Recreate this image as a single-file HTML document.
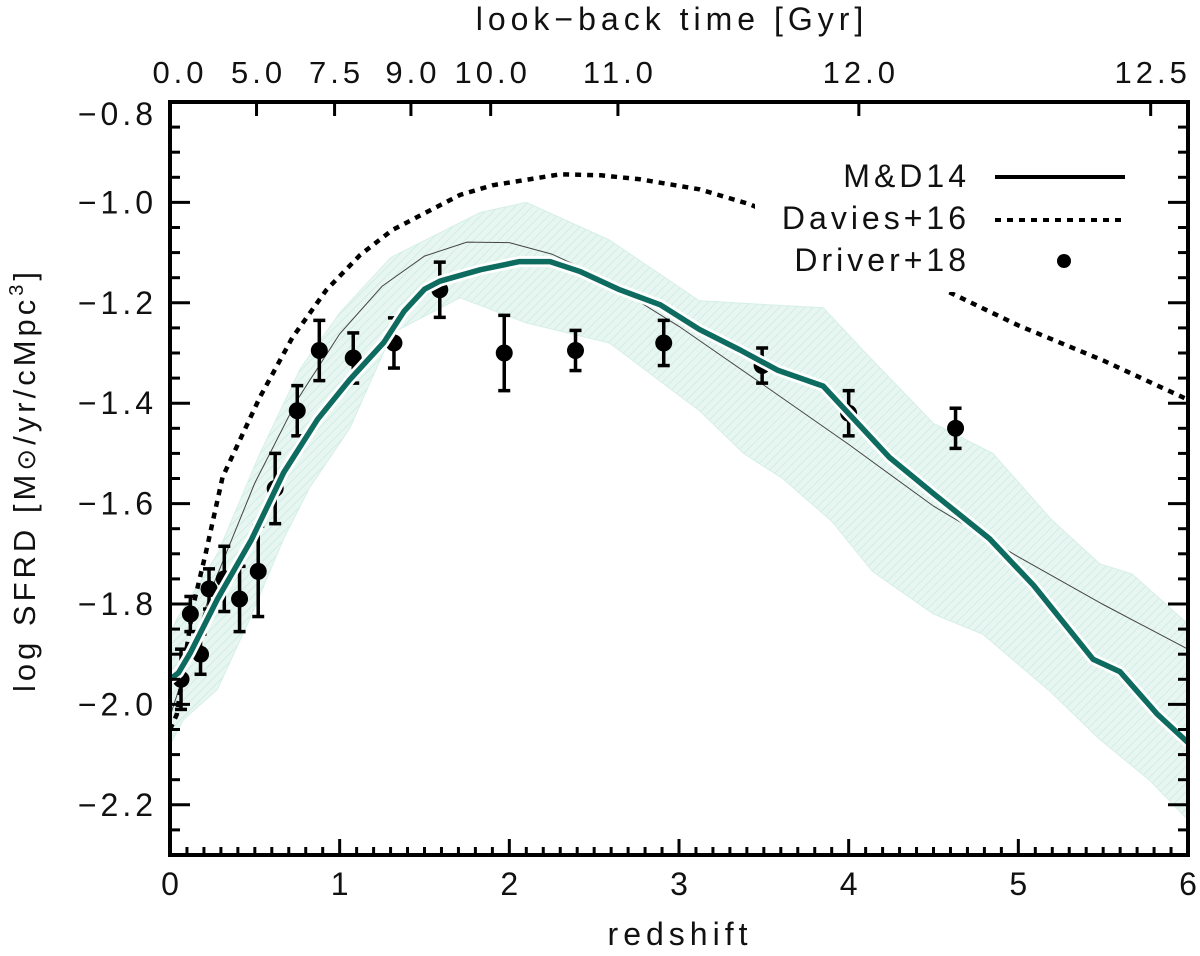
<!DOCTYPE html>
<html><head><meta charset="utf-8"><style>
html,body{margin:0;padding:0;background:#fff;}
svg{display:block;font-family:"Liberation Sans",sans-serif;}
text{fill:#111;letter-spacing:4px;}
</style></head><body>
<svg id="chart" width="1200" height="956" viewBox="0 0 1200 956">
<defs>
<pattern id="hatch" width="6" height="6" patternUnits="userSpaceOnUse" patternTransform="rotate(45)">
<rect width="6" height="6" fill="#e8f6f2"/><line x1="0" y1="0" x2="0" y2="6" stroke="#d2ede6" stroke-width="2"/>
</pattern>
<clipPath id="plotclip"><rect x="170" y="102" width="1018" height="753"/></clipPath>
</defs>
<g id="plot" clip-path="url(#plotclip)"></g>
<g id="axes"></g>
<text x="672" y="30" text-anchor="middle" font-size="32" style="letter-spacing:5px">look−back time [Gyr]</text>
<text x="680" y="945" text-anchor="middle" font-size="32" style="letter-spacing:5px">redshift</text>
<text transform="translate(35,480) rotate(-90)" text-anchor="middle" font-size="31">log SFRD [M<tspan font-family="DejaVu Sans" font-size="26">⊙</tspan>/yr/cMpc<tspan dy="-12" font-size="20">3</tspan><tspan dy="12">]</tspan></text>
</svg>
<script>
// ---- data ----
const upperZ = [0,0.04,0.28,0.53,0.77,1.0,1.3,1.83,2.1,2.59,3.12,3.85,4.1,4.5,4.85,5.19,5.48,5.67,6.0];
const bandUpper = [-1.86,-1.83,-1.70,-1.50,-1.33,-1.22,-1.11,-1.02,-1.0,-1.075,-1.196,-1.21,-1.30,-1.44,-1.50,-1.63,-1.72,-1.74,-1.84];
const lowerZ = [0,0.08,0.28,0.47,0.67,0.82,1.06,1.31,1.71,2.1,2.59,3.12,3.38,3.61,3.9,4.14,4.5,4.79,5.19,5.48,5.77,6.0];
const bandLower = [-2.08,-2.03,-1.97,-1.83,-1.67,-1.57,-1.45,-1.26,-1.19,-1.24,-1.28,-1.415,-1.50,-1.55,-1.635,-1.735,-1.82,-1.86,-1.975,-2.07,-2.15,-2.23];
const mdZ = [0,0.05,0.12,0.28,0.48,0.67,0.87,1.06,1.26,1.38,1.5,1.59,1.83,2.06,2.24,2.42,2.65,2.89,3.12,3.36,3.58,3.85,4.24,4.5,4.83,5.09,5.44,5.6,5.82,6.0];
const mdY = [-1.95,-1.937,-1.897,-1.79,-1.672,-1.538,-1.432,-1.353,-1.279,-1.217,-1.173,-1.157,-1.134,-1.118,-1.118,-1.138,-1.174,-1.204,-1.253,-1.294,-1.334,-1.366,-1.508,-1.58,-1.67,-1.763,-1.91,-1.935,-2.02,-2.076];
const fitZ = [0,0.25,0.5,0.75,1.0,1.25,1.5,1.75,2.0,2.25,2.5,3.0,3.5,4.0,4.5,5.0,5.5,6.0];
const fitY = [-2.024,-1.766,-1.559,-1.393,-1.262,-1.167,-1.107,-1.079,-1.08,-1.103,-1.142,-1.247,-1.364,-1.482,-1.605,-1.706,-1.801,-1.89];
const davZ = [0,0.04,0.135,0.21,0.31,0.53,0.72,0.92,1.12,1.31,1.51,1.71,1.9,2.3,2.54,2.77,3.12,3.42,4.0,4.6,5.0,5.5,6.0];
const davY = [-2.05,-2.02,-1.806,-1.70,-1.547,-1.388,-1.27,-1.175,-1.105,-1.055,-1.02,-0.985,-0.966,-0.944,-0.946,-0.954,-0.974,-1.004,-1.09,-1.18,-1.245,-1.315,-1.393];
const drvZ = [0.065,0.12,0.18,0.23,0.32,0.41,0.52,0.62,0.75,0.88,1.08,1.32,1.59,1.97,2.39,2.91,3.49,4.0,4.63];
const drvY = [-1.95,-1.82,-1.9,-1.77,-1.75,-1.79,-1.735,-1.57,-1.415,-1.295,-1.31,-1.28,-1.174,-1.3,-1.295,-1.28,-1.325,-1.42,-1.45];
const drvErr = [0.06,0.035,0.04,0.04,0.065,0.065,0.09,0.07,0.05,0.06,0.05,0.05,0.055,0.075,0.04,0.045,0.035,0.045,0.04];
const yTicks = [-0.8,-1.0,-1.2,-1.4,-1.6,-1.8,-2.0,-2.2];
const yTickLabels = ["\u22120.8","\u22121.0","\u22121.2","\u22121.4","\u22121.6","\u22121.8","\u22122.0","\u22122.2"];
const xTicks = [0,1,2,3,4,5,6];
const xTickLabels = ["0","1","2","3","4","5","6"];
const topTickZ = [0,0.51,0.97,1.42,1.89,2.64,4.06,5.78];
const topTickLabels = ["0.0","5.0","7.5","9.0","10.0","11.0","12.0","12.5"];

// ---- scales ----
const X0=170, X1=1188, Y0=855, Y1=102;
const xs = z => X0 + (z-0)/(6-0)*(X1-X0);
const ys = v => Y0 - (v-(-2.3))/((-0.8)-(-2.3))*(Y0-Y1);
const NS="http://www.w3.org/2000/svg";
function mk(tag, attrs, parent){const e=document.createElementNS(NS,tag);for(const k in attrs)e.setAttribute(k,attrs[k]);parent.appendChild(e);return e;}
const plot=document.getElementById('plot'), axes=document.getElementById('axes');
const pathOf=(zs,vs)=>zs.map((z,i)=>(i?'L':'M')+xs(z).toFixed(1)+','+ys(vs[i]).toFixed(1)).join(' ');

let bd = pathOf(upperZ,bandUpper);
for(let i=lowerZ.length-1;i>=0;i--) bd+=' L'+xs(lowerZ[i]).toFixed(1)+','+ys(bandLower[i]).toFixed(1);
const band=mk('path',{d:bd+' Z',fill:'url(#hatch)',stroke:'#d6efe8','stroke-width':1},plot);



const fit=mk('path',{d:pathOf(fitZ,fitY),fill:'none',stroke:'#444','stroke-width':1},plot);



const dav=mk('path',{d:pathOf(davZ,davY),fill:'none',stroke:'#000','stroke-width':4.5,'stroke-dasharray':'6 6','stroke-linejoin':'round'},plot);



drvZ.forEach((z,i)=>{
  const g=mk('g',{},plot);
  
  
  const x=xs(z), yt=ys(drvY[i]+drvErr[i]), yb=ys(drvY[i]-drvErr[i]);
  mk('line',{x1:x,y1:yt,x2:x,y2:yb,stroke:'#000','stroke-width':3.5},g);
  mk('line',{x1:x-6,y1:yt,x2:x+6,y2:yt,stroke:'#000','stroke-width':3.5},g);
  mk('line',{x1:x-6,y1:yb,x2:x+6,y2:yb,stroke:'#000','stroke-width':3.5},g);
  mk('circle',{cx:x,cy:ys(drvY[i]),r:8.5,fill:'#000'},g);
});

const halo=mk('path',{d:pathOf(mdZ,mdY),fill:'none',stroke:'#fff','stroke-width':11,'stroke-linejoin':'round'},plot);


const md=mk('path',{d:pathOf(mdZ,mdY),fill:'none',stroke:'#0d6b5f','stroke-width':5.5,'stroke-linejoin':'round'},plot);



const lg=mk('g',{},plot);


mk('rect',{x:755,y:148,width:385,height:144,fill:'#fff'},lg);
const legNames=["M&D14","Davies+16","Driver+18"];
legNames.forEach((n,i)=>{
  const yy=176+i*42;
  const t=mk('text',{x:970,y:yy+11,'text-anchor':'end','font-size':32},lg);
  t.textContent=n;
  
  
});
mk('line',{x1:995,y1:177,x2:1125,y2:177,stroke:'#000','stroke-width':4},lg);
mk('line',{x1:995,y1:220,x2:1122,y2:220,stroke:'#000','stroke-width':4,'stroke-dasharray':'6 6'},lg);
mk('circle',{cx:1064,cy:261,r:7,fill:'#000'},lg);

mk('rect',{x:X0,y:Y1,width:X1-X0,height:Y0-Y1,fill:'none',stroke:'#000','stroke-width':4},axes);
for(let k=0;k<=30;k++){
  const v=-2.3+k*0.05; const y=ys(v); const major=((k-2)%4===0);
  const L=major?20:10;
  mk('line',{x1:X0,y1:y,x2:X0+L,y2:y,stroke:'#000','stroke-width':3},axes);
  mk('line',{x1:X1,y1:y,x2:X1-L,y2:y,stroke:'#000','stroke-width':3},axes);
}
yTicks.forEach((v,i)=>{
  const t=mk('text',{x:157,y:Math.max(ys(v),114)+11,'text-anchor':'end','font-size':32},axes);
  t.textContent=yTickLabels[i];
  
  
});
for(let k=0;k<=60;k++){
  const x=xs(k/10); const L=(k%10===0)?16:8;
  mk('line',{x1:x,y1:Y0,x2:x,y2:Y0-L,stroke:'#000','stroke-width':3},axes);
}
xTicks.forEach((z,i)=>{
  const t=mk('text',{x:xs(z)+2,y:895,'text-anchor':'middle','font-size':32},axes);
  t.textContent=xTickLabels[i];
  
  
});
topTickZ.forEach((z,i)=>{
  mk('line',{x1:xs(z),y1:Y1,x2:xs(z),y2:Y1+14,stroke:'#000','stroke-width':3},axes);
  const t=mk('text',{x:(i===0?xs(z)+10:xs(z)+2),y:83,'text-anchor':'middle','font-size':31},axes);
  t.textContent=topTickLabels[i];
  
  
});
</script>
</body></html>
